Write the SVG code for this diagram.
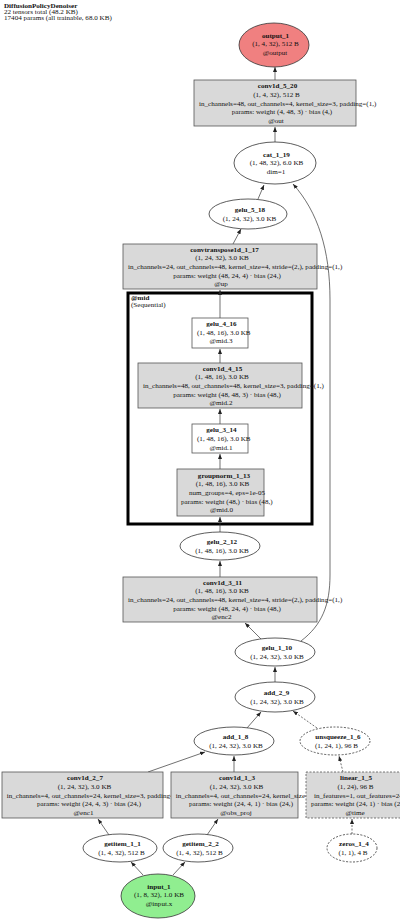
<svg xmlns="http://www.w3.org/2000/svg" width="400" height="922" viewBox="0 0 400 922">
<style>
text{font-family:"Liberation Serif","Times New Roman",serif;font-size:7.1px;fill:#111;text-anchor:middle}
.b{font-weight:bold}
.l{text-anchor:start}
.box{fill:#d9d9d9;stroke:#555;stroke-width:0.8}
.wbox{fill:#fff;stroke:#555;stroke-width:0.8}
.ell{fill:#fff;stroke:#333;stroke-width:0.8}
.dash{stroke-dasharray:2,1.5}
.e{fill:none;stroke:#333;stroke-width:0.7}
</style>
<defs>
<marker id="ah" markerUnits="userSpaceOnUse" markerWidth="5" markerHeight="4" refX="5" refY="2" orient="auto">
<path d="M0,0 L5,2 L0,4 z" fill="#222"/>
</marker>
</defs>
<rect width="400" height="922" fill="#fff"/>
<g id="title">
<text class="l b" x="4" y="8">DiffusionPolicyDenoiser</text>
<text class="l" x="4" y="14.2">22 tensors total (48.2 KB)</text>
<text class="l" x="4" y="20.4">17404 params (all trainable, 68.0 KB)</text>
</g>
<g id="cluster_mid">
<rect x="128" y="293" width="184" height="231" fill="none" stroke="#000" stroke-width="3"/>
<text class="l b" x="131" y="299.5">@mid</text>
<text class="l" x="131" y="306.5">(Sequential)</text>
</g>
<g id="edges">
<path class="e" marker-end="url(#ah)" d="M143,875 L131,862"/>
<path class="e" marker-end="url(#ah)" d="M173,875 L185,862"/>
<path class="e" marker-end="url(#ah)" d="M109,835 L98,819"/>
<path class="e" marker-end="url(#ah)" d="M207,835 L218,819"/>
<path class="e dash" marker-end="url(#ah)" d="M352,834 L352,819"/>
<path class="e" marker-end="url(#ah)" d="M148,772 L205,752"/>
<path class="e" marker-end="url(#ah)" d="M234,772 L234,756"/>
<path class="e dash" marker-end="url(#ah)" d="M343,772 L339,756"/>
<path class="e" marker-end="url(#ah)" d="M247,728 L261,712"/>
<path class="e dash" marker-end="url(#ah)" d="M317,728 L293,711"/>
<path class="e" marker-end="url(#ah)" d="M275,682 L275,667"/>
<path class="e" marker-end="url(#ah)" d="M261,639 L245,623"/>
<path class="e" marker-end="url(#ah)" d="M301,641 C322,625 330,605 330,575 L330,300 C330,250 318,212 293,184"/>
<path class="e" marker-end="url(#ah)" d="M220,577 L220,561"/>
<path class="e" marker-end="url(#ah)" d="M220,532 L220,517"/>
<path class="e" marker-end="url(#ah)" d="M220,469 L220,454"/>
<path class="e" marker-end="url(#ah)" d="M220,424 L220,409"/>
<path class="e" marker-end="url(#ah)" d="M220,363 L220,349"/>
<path class="e" marker-end="url(#ah)" d="M220,318 L220,290"/>
<path class="e" marker-end="url(#ah)" d="M233,244 L241,229"/>
<path class="e" marker-end="url(#ah)" d="M258,199 L264,185"/>
<path class="e" marker-end="url(#ah)" d="M275,142 L275,127"/>
<path class="e" marker-end="url(#ah)" d="M275,80 L275,67"/>
</g>
<g id="output_1">
<ellipse cx="274" cy="45" rx="35" ry="22" fill="#f08080" stroke="#333" stroke-width="0.8"/>
<text class="b" x="275.5" y="37.8">output_1</text>
<text x="275.5" y="46.4">(1, 4, 32), 512 B</text>
<text x="275" y="55">@output</text>
</g>
<g id="conv1d_5_20">
<rect class="box" x="194" y="80" width="162" height="46"/>
<text class="b" x="277.5" y="88.3">conv1d_5_20</text>
<text x="276.5" y="96.9">(1, 4, 32), 512 B</text>
<text class="l" x="199" y="105.5">in_channels=48, out_channels=4, kernel_size=3, padding=(1,)</text>
<text x="282" y="114.1">params: weight (4, 48, 3) · bias (4,)</text>
<text x="276" y="122.7">@out</text>
</g>
<g id="cat_1_19">
<ellipse class="ell" cx="275" cy="163" rx="41" ry="21"/>
<text class="b" x="276.5" y="156.8">cat_1_19</text>
<text x="276.5" y="165.4">(1, 48, 32), 6.0 KB</text>
<text x="276" y="174">dim=1</text>
</g>
<g id="gelu_5_18">
<ellipse class="ell" cx="248" cy="214" rx="39" ry="15"/>
<text class="b" x="250" y="212.2">gelu_5_18</text>
<text x="249.5" y="220.8">(1, 24, 32), 3.0 KB</text>
</g>
<g id="convtranspose1d_1_17">
<rect class="box" x="123" y="244" width="194" height="45"/>
<text class="b" x="224.5" y="251.8">convtranspose1d_1_17</text>
<text x="222" y="260.4">(1, 24, 32), 3.0 KB</text>
<text class="l" x="128" y="269">in_channels=24, out_channels=48, kernel_size=4, stride=(2,), padding=(1,)</text>
<text x="227" y="277.6">params: weight (48, 24, 4) · bias (24,)</text>
<text x="221" y="286.2">@up</text>
</g>
<g id="gelu_4_16">
<rect class="wbox" x="192" y="318" width="56" height="30"/>
<text class="b" x="221.5" y="325.9">gelu_4_16</text>
<text class="l" x="197" y="334.5">(1, 48, 16), 3.0 KB</text>
<text x="221" y="343.1">@mid.3</text>
</g>
<g id="conv1d_4_15">
<rect class="box" x="138" y="363" width="164" height="45"/>
<text class="b" x="222.5" y="370.8">conv1d_4_15</text>
<text x="222" y="379.4">(1, 48, 16), 3.0 KB</text>
<text class="l" x="143" y="388">in_channels=48, out_channels=48, kernel_size=3, padding=(1,)</text>
<text x="227" y="396.6">params: weight (48, 48, 3) · bias (48,)</text>
<text x="221" y="405.2">@mid.2</text>
</g>
<g id="gelu_3_14">
<rect class="wbox" x="192" y="424" width="56" height="29"/>
<text class="b" x="221.5" y="432.4">gelu_3_14</text>
<text class="l" x="197" y="441">(1, 48, 16), 3.0 KB</text>
<text x="221" y="449.6">@mid.1</text>
</g>
<g id="groupnorm_1_13">
<rect class="box" x="177" y="469" width="87" height="47"/>
<text class="b" x="224" y="477.8">groupnorm_1_13</text>
<text x="222.5" y="486.4">(1, 48, 16), 3.0 KB</text>
<text x="227" y="495">num_groups=4, eps=1e-05</text>
<text class="l" x="181" y="503.6">params: weight (48,) · bias (48,)</text>
<text x="221.5" y="512.2">@mid.0</text>
</g>
<g id="gelu_2_12">
<ellipse class="ell" cx="220" cy="546" rx="40" ry="14"/>
<text class="b" x="222" y="544.2">gelu_2_12</text>
<text x="222" y="552.8">(1, 48, 16), 3.0 KB</text>
</g>
<g id="conv1d_3_11">
<rect class="box" x="123" y="577" width="194" height="45"/>
<text class="b" x="222.5" y="584.8">conv1d_3_11</text>
<text x="222" y="593.4">(1, 48, 16), 3.0 KB</text>
<text class="l" x="128" y="602">in_channels=24, out_channels=48, kernel_size=4, stride=(2,), padding=(1,)</text>
<text x="227" y="610.6">params: weight (48, 24, 4) · bias (48,)</text>
<text x="221.5" y="619.2">@enc2</text>
</g>
<g id="gelu_1_10">
<ellipse class="ell" cx="275" cy="652" rx="40" ry="14"/>
<text class="b" x="277" y="650.2">gelu_1_10</text>
<text x="277" y="658.8">(1, 24, 32), 3.0 KB</text>
</g>
<g id="add_2_9">
<ellipse class="ell" cx="275" cy="697" rx="40" ry="15"/>
<text class="b" x="276.5" y="695.2">add_2_9</text>
<text x="277" y="703.8">(1, 24, 32), 3.0 KB</text>
</g>
<g id="add_1_8">
<ellipse class="ell" cx="234" cy="741" rx="40" ry="14"/>
<text class="b" x="235.5" y="739.2">add_1_8</text>
<text x="236" y="747.8">(1, 24, 32), 3.0 KB</text>
</g>
<g id="unsqueeze_1_6">
<ellipse class="ell dash" cx="335" cy="741" rx="35" ry="14"/>
<text class="b" x="338" y="739.2">unsqueeze_1_6</text>
<text x="336.5" y="747.8">(1, 24, 1), 96 B</text>
</g>
<g id="conv1d_2_7">
<rect class="box" x="2" y="772" width="161" height="46"/>
<text class="b" x="85" y="780.3">conv1d_2_7</text>
<text x="84.5" y="788.9">(1, 24, 32), 3.0 KB</text>
<text class="l" x="6.7" y="797.5">in_channels=4, out_channels=24, kernel_size=3, padding=(1,)</text>
<text x="89" y="806.1">params: weight (24, 4, 3) · bias (24,)</text>
<text x="83.5" y="814.7">@enc1</text>
</g>
<g id="conv1d_1_3">
<rect class="box" x="171" y="772" width="127" height="46"/>
<text class="b" x="237" y="780.3">conv1d_1_3</text>
<text x="236.5" y="788.9">(1, 24, 32), 3.0 KB</text>
<text class="l" x="175.7" y="797.5">in_channels=4, out_channels=24, kernel_size=1</text>
<text x="241" y="806.1">params: weight (24, 4, 1) · bias (24,)</text>
<text x="236" y="814.7">@obs_proj</text>
</g>
<g id="linear_1_5">
<rect class="box dash" x="306" y="772" width="96" height="46"/>
<text class="b" x="356" y="780.3">linear_1_5</text>
<text x="355.5" y="788.9">(1, 24), 96 B</text>
<text class="l" x="314" y="797.5">in_features=1, out_features=24</text>
<text class="l" x="311" y="806.1">params: weight (24, 1) · bias (24,)</text>
<text x="355" y="814.7">@time</text>
</g>
<g id="getitem_1_1">
<ellipse class="ell" cx="120" cy="848" rx="37" ry="14"/>
<text class="b" x="122.5" y="846.2">getitem_1_1</text>
<text x="121.5" y="854.8">(1, 4, 32), 512 B</text>
</g>
<g id="getitem_2_2">
<ellipse class="ell" cx="198" cy="848" rx="35" ry="14"/>
<text class="b" x="200.5" y="846.2">getitem_2_2</text>
<text x="199.5" y="854.8">(1, 4, 32), 512 B</text>
</g>
<g id="zeros_1_4">
<ellipse class="ell dash" cx="352" cy="848" rx="25" ry="14"/>
<text class="b" x="354" y="846.2">zeros_1_4</text>
<text x="353" y="854.8">(1, 1), 4 B</text>
</g>
<g id="input_1">
<ellipse cx="158" cy="896" rx="37" ry="22" fill="#90ee90" stroke="#333" stroke-width="0.8"/>
<text class="b" x="159" y="888.8">input_1</text>
<text x="159" y="897.4">(1, 8, 32), 1.0 KB</text>
<text x="159" y="906">@input.x</text>
</g>
</svg>
